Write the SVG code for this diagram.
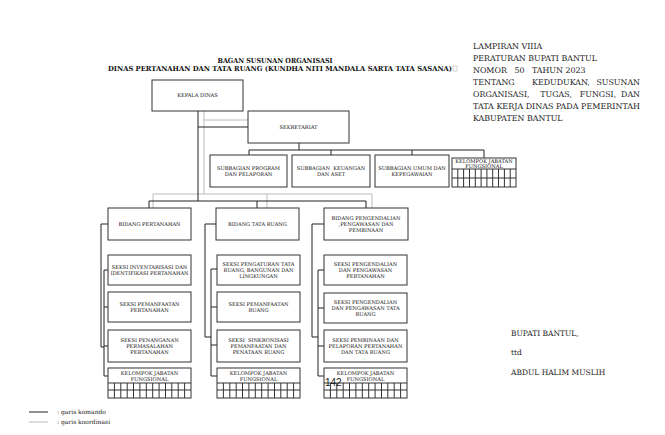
<svg xmlns="http://www.w3.org/2000/svg" width="665" height="435" viewBox="0 0 665 435">
<style>
.bx{fill:#fff;stroke:#333;stroke-width:1}
.t{font-family:"DejaVu Serif","Liberation Serif",serif;font-size:5.1px;fill:#222;text-anchor:middle}
.cmd{fill:none;stroke:#222;stroke-width:1}
.crd{fill:none;stroke:#bbb;stroke-width:1}
.hd{font-family:"DejaVu Serif","Liberation Serif",serif;font-size:7.9px;fill:#222}
.sg{font-family:"DejaVu Serif","Liberation Serif",serif;font-size:7.5px;fill:#222}
.ttl{font-family:"DejaVu Serif","Liberation Serif",serif;font-weight:bold;font-size:7px;fill:#111;text-anchor:middle}
.lg{font-family:"DejaVu Serif","Liberation Serif",serif;font-size:6px;fill:#222}
</style>
<defs>
<path id="g13" d="M0,0H83M0,7H83M6.4,0V15M12.8,0V15M19.2,0V15M25.5,0V15M31.9,0V15M38.3,0V15M44.7,0V15M51.1,0V15M57.5,0V15M63.8,0V15M70.2,0V15M76.6,0V15" fill="none" stroke="#333" stroke-width="1"/>
<path id="g11" d="M0,0H64M0,9H64M5.8,0V18M11.6,0V18M17.5,0V18M23.3,0V18M29.1,0V18M34.9,0V18M40.7,0V18M46.5,0V18M52.4,0V18M58.2,0V18" fill="none" stroke="#333" stroke-width="1"/>
</defs>
<rect width="665" height="435" fill="#fff"/>

<text class="ttl" x="275" y="63" textLength="115" lengthAdjust="spacingAndGlyphs">BAGAN SUSUNAN ORGANISASI</text>
<text class="ttl" x="280" y="71" textLength="344" lengthAdjust="spacingAndGlyphs">DINAS PERTANAHAN DAN TATA RUANG (KUNDHA NITI MANDALA SARTA TATA SASANA)</text>
<rect x="453" y="66" width="4" height="5" fill="none" stroke="#aaa" stroke-width="0.5"/>

<g id="header-text" class="hd">
<text x="473" y="49">LAMPIRAN VIIIA</text>
<text x="473" y="61">PERATURAN BUPATI BANTUL</text>
<text x="473" y="73" xml:space="preserve">NOMOR   50   TAHUN 2023</text>
<text x="473" y="85">TENTANG</text><text x="561" y="85" text-anchor="middle">KEDUDUKAN,</text><text x="640" y="85" text-anchor="end">SUSUNAN</text>
<text x="473" y="97">ORGANISASI,</text><text x="556" y="97" text-anchor="middle">TUGAS,</text><text x="598" y="97" text-anchor="middle">FUNGSI,</text><text x="640" y="97" text-anchor="end">DAN</text>
<text x="473" y="109" textLength="167" lengthAdjust="spacingAndGlyphs">TATA KERJA DINAS PADA PEMERINTAH</text>
<text x="473" y="121">KABUPATEN BANTUL</text>
</g>

<g id="connectors">
<path class="crd" d="M204,111V194M204,120H248M153,194H372M153,194V208M267,194V208M372,194V208"/>
<path class="cmd" d="M198,111V201M198,127H248M299,143V150M249,150H484M249,150V155M331,150V155M412,150V155M484,150V158"/>
<path class="cmd" d="M149,201H366M149,201V208M257,201V208M366,201V208"/>
<path class="cmd" d="M108,224H101V347H104M104,270V376M104,270H108M104,307H108M104,346H108M104,376H108"/>
<path class="cmd" d="M216,224H205V337H211M211,269V376M211,269H217M211,307H217M211,345H217M211,376H217"/>
<path class="cmd" d="M324,224H312V337H318M318,270V376M318,270H324M318,308H324M318,346H324M318,376H324"/>
</g>

<g id="kepala-dinas"><rect class="bx" x="152" y="80" width="91" height="31"/><text class="t" x="197.5" y="97">KEPALA DINAS</text></g>
<g id="sekretariat"><rect class="bx" x="248" y="111" width="101" height="32"/><text class="t" x="298.5" y="129">SEKRETARIAT</text></g>

<g id="subbag-program"><rect class="bx" x="210" y="155" width="77" height="32"/><text class="t" x="248.5" y="170">SUBBAGIAN PROGRAM</text><text class="t" x="248.5" y="176">DAN PELAPORAN</text></g>
<g id="subbag-keuangan"><rect class="bx" x="292" y="155" width="78" height="32"/><text class="t" x="331" y="170" xml:space="preserve">SUBBAGIAN  KEUANGAN</text><text class="t" x="331" y="176">DAN ASET</text></g>
<g id="subbag-umum"><rect class="bx" x="375" y="155" width="74" height="32"/><text class="t" x="412" y="170">SUBBAGIAN UMUM DAN</text><text class="t" x="412" y="176">KEPEGAWAIAN</text></g>
<g id="kjf-sekretariat"><rect class="bx" x="452" y="158" width="64" height="29"/><use href="#g11" x="452" y="169"/><text class="t" x="484" y="163">KELOMPOK JABATAN</text><text class="t" x="484" y="168">FUNGSIONAL</text></g>

<g id="bidang-pertanahan"><rect class="bx" x="108" y="208" width="83" height="32"/><text class="t" x="149.5" y="226">BIDANG PERTANAHAN</text></g>
<g id="bidang-tata-ruang"><rect class="bx" x="216" y="208" width="83" height="32"/><text class="t" x="257.5" y="226">BIDANG TATA RUANG</text></g>
<g id="bidang-pengendalian"><rect class="bx" x="324" y="208" width="84" height="32"/><text class="t" x="366" y="220">BIDANG PENGENDALIAN</text><text class="t" x="366" y="226">,PENGAWASAN DAN</text><text class="t" x="366" y="232">PEMBINAAN</text></g>

<g id="seksi-inventarisasi"><rect class="bx" x="108" y="255" width="83" height="30"/><text class="t" x="149.5" y="269">SEKSI INVENTARISASI DAN</text><text class="t" x="149.5" y="275">IDENTIFIKASI PERTANAHAN</text></g>
<g id="seksi-pemanfaatan-pertanahan"><rect class="bx" x="108" y="292" width="83" height="30"/><text class="t" x="149.5" y="306">SEKSI PEMANFAATAN</text><text class="t" x="149.5" y="312">PERTANAHAN</text></g>
<g id="seksi-penanganan"><rect class="bx" x="108" y="330" width="83" height="32"/><text class="t" x="149.5" y="342">SEKSI PENANGANAN</text><text class="t" x="149.5" y="348">PERMASALAHAN</text><text class="t" x="149.5" y="354">PERTANAHAN</text></g>
<g id="kjf-pertanahan"><rect class="bx" x="108" y="368" width="83" height="30"/><use href="#g13" x="108" y="383"/><text class="t" x="149.5" y="374.5">KELOMPOK JABATAN</text><text class="t" x="149.5" y="380.5">FUNGSIONAL</text></g>

<g id="seksi-pengaturan"><rect class="bx" x="217" y="255" width="83" height="30"/><text class="t" x="258.5" y="266">SEKSI PENGATURAN TATA</text><text class="t" x="258.5" y="272">RUANG, BANGUNAN DAN</text><text class="t" x="258.5" y="278">LINGKUNGAN</text></g>
<g id="seksi-pemanfaatan-ruang"><rect class="bx" x="217" y="292" width="83" height="30"/><text class="t" x="258.5" y="306">SEKSI PEMANFAATAN</text><text class="t" x="258.5" y="312">RUANG</text></g>
<g id="seksi-sinkronisasi"><rect class="bx" x="217" y="330" width="83" height="32"/><text class="t" x="258.5" y="342" xml:space="preserve">SEKSI  SINKRONISASI</text><text class="t" x="258.5" y="348">PEMANFAATAN DAN</text><text class="t" x="258.5" y="354">PENATAAN RUANG</text></g>
<g id="kjf-tata-ruang"><rect class="bx" x="217" y="368" width="83" height="30"/><use href="#g13" x="217" y="383"/><text class="t" x="258.5" y="374.5">KELOMPOK JABATAN</text><text class="t" x="258.5" y="380.5">FUNGSIONAL</text></g>

<g id="seksi-pengendalian-pertanahan"><rect class="bx" x="324" y="255" width="83" height="30"/><text class="t" x="365.5" y="266">SEKSI PENGENDALIAN</text><text class="t" x="365.5" y="272">DAN PENGAWASAN</text><text class="t" x="365.5" y="278">PERTANAHAN</text></g>
<g id="seksi-pengendalian-tata-ruang"><rect class="bx" x="324" y="293" width="83" height="30"/><text class="t" x="365.5" y="304">SEKSI PENGENDALIAN</text><text class="t" x="365.5" y="310">DAN PENGAWASAN TATA</text><text class="t" x="365.5" y="316">RUANG</text></g>
<g id="seksi-pembinaan"><rect class="bx" x="324" y="330" width="83" height="32"/><text class="t" x="365.5" y="342">SEKSI PEMBINAAN DAN</text><text class="t" x="365.5" y="348">PELAPORAN PERTANAHAN</text><text class="t" x="365.5" y="354">DAN TATA RUANG</text></g>
<g id="kjf-pengendalian"><rect class="bx" x="324" y="368" width="83" height="30"/><use href="#g13" x="324" y="383"/><text class="t" x="365.5" y="374.5">KELOMPOK JABATAN</text><text class="t" x="365.5" y="380.5">FUNGSIONAL</text></g>

<text x="325" y="386" font-family="Liberation Sans, Arial, sans-serif" font-size="10" fill="#222">142</text>

<g id="signature" class="sg">
<text x="511" y="336">BUPATI BANTUL,</text>
<text x="511" y="355">ttd</text>
<text x="511" y="375">ABDUL HALIM MUSLIH</text>
</g>

<g id="legend">
<line x1="29" y1="412" x2="48" y2="412" stroke="#222" stroke-width="1"/>
<line x1="29" y1="422" x2="48" y2="422" stroke="#bbb" stroke-width="1"/>
<text class="lg" x="57" y="414">: garis komando</text>
<text class="lg" x="57" y="424">: garis koordinasi</text>
</g>
</svg>
